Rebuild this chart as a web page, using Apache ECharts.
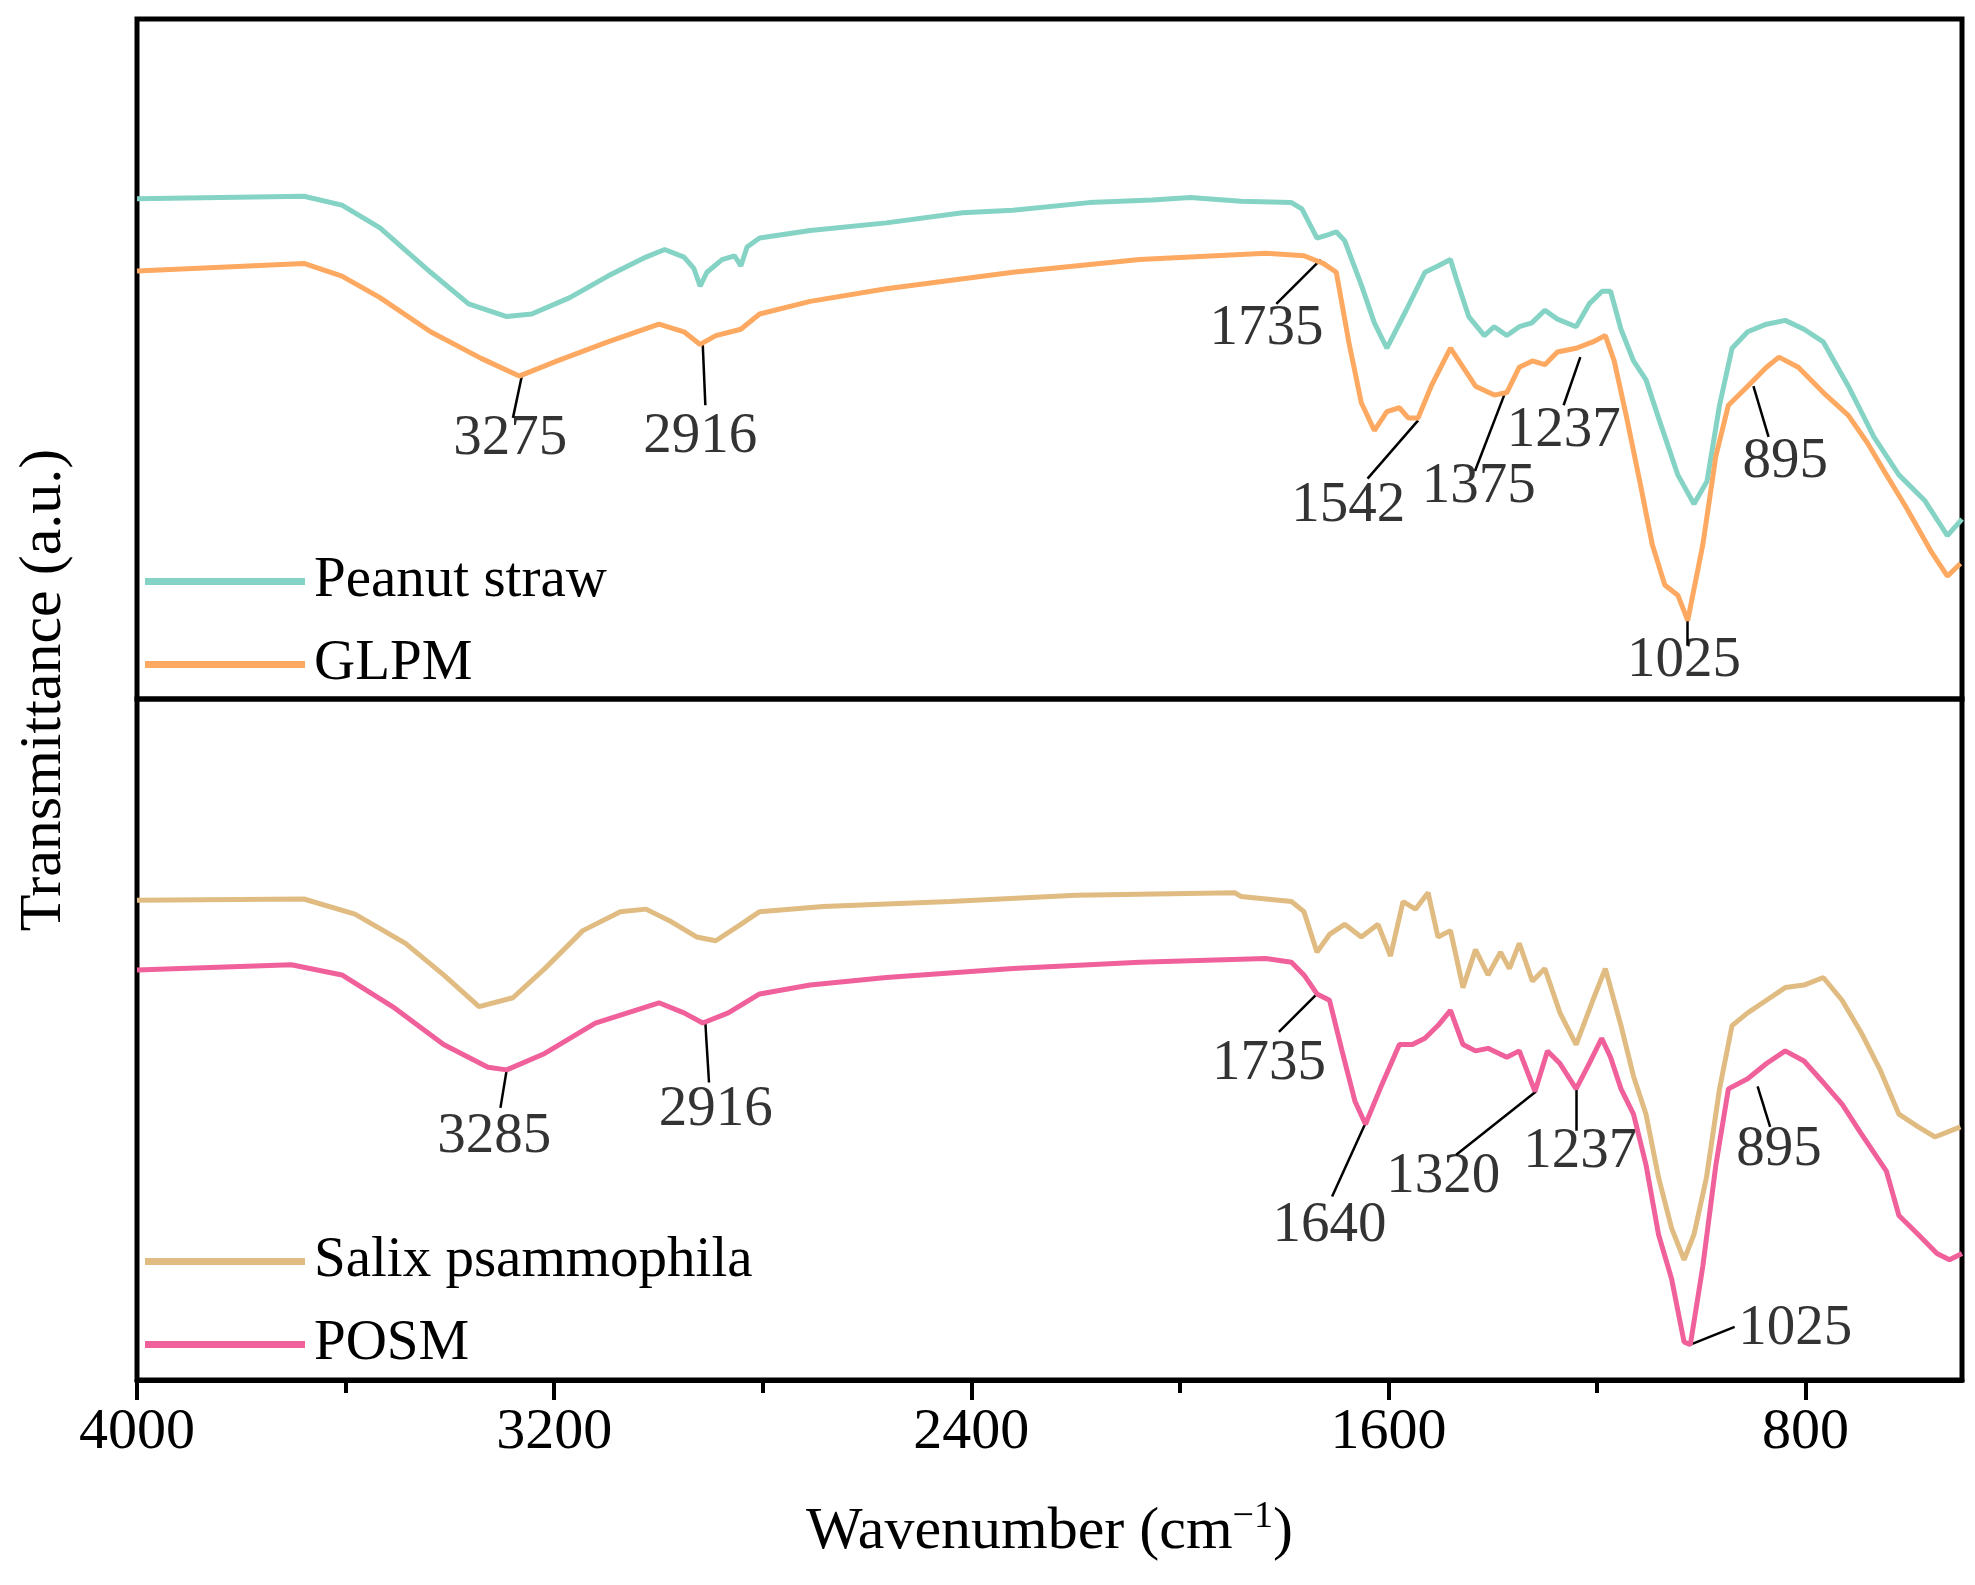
<!DOCTYPE html>
<html><head><meta charset="utf-8">
<script src="https://cdn.jsdelivr.net/npm/echarts@6/dist/echarts.min.js"></script>
<style>html,body{margin:0;padding:0;background:#fff}#c{width:1975px;height:1585px}</style>
</head><body><div id="c"></div>
<script>
// [wavenumber, transmittance (a.u., arbitrary offset units)]
const peanutStraw = [[4000,157],[3680,155],[3607,162],[3534,180],[3437,215],[3364,240],[3291,250],[3243,248],[3170,235],[3097,218],[3024,203],[2988,197],[2951,203],[2932,212],[2920,226],[2907,215],[2878,205],[2854,202],[2842,210],[2830,195],[2806,188],[2709,182],[2563,176],[2417,168],[2320,166],[2174,160],[2053,158],[1980,156],[1883,159],[1786,160],[1766,165],[1737,188],[1713,185],[1700,183],[1684,190],[1652,225],[1627,255],[1603,275],[1566,245],[1530,215],[1505,210],[1481,205],[1470,220],[1446,250],[1416,265],[1397,258],[1373,265],[1349,258],[1325,255],[1300,245],[1276,252],[1240,258],[1215,240],[1190,230],[1174,230],[1154,260],[1130,285],[1106,300],[1082,330],[1045,375],[1014,398],[989,380],[965,320],[941,275],[911,262],[875,256],[839,253],[803,260],[766,270],[718,305],[669,345],[621,375],[572,395],[528,423],[500,410]];
const glpm = [[4000,214],[3680,208],[3607,218],[3534,235],[3437,262],[3340,283],[3267,297],[3194,285],[3097,270],[2999,256],[2951,262],[2920,272],[2890,265],[2842,260],[2806,248],[2709,238],[2563,228],[2320,215],[2077,205],[1835,200],[1762,202],[1725,208],[1700,215],[1676,270],[1652,318],[1627,340],[1603,325],[1579,322],[1562,330],[1543,330],[1518,305],[1481,275],[1457,290],[1433,305],[1397,312],[1373,310],[1349,290],[1324,285],[1300,288],[1276,278],[1240,275],[1208,270],[1184,265],[1167,285],[1143,330],[1118,380],[1094,430],[1070,462],[1045,470],[1026,490],[997,430],[972,360],[948,320],[911,305],[875,290],[851,282],[814,290],[766,310],[718,328],[681,350],[645,375],[608,400],[560,435],[528,455],[503,445]];
const salix = [[4000,711],[3680,710],[3582,722],[3485,745],[3412,770],[3344,795],[3279,788],[3218,765],[3145,735],[3073,720],[3024,718],[2975,728],[2927,740],[2890,743],[2842,730],[2806,720],[2684,716],[2441,712],[2199,707],[1895,705],[1883,708],[1786,712],[1762,720],[1737,752],[1713,738],[1684,730],[1652,740],[1620,730],[1596,755],[1572,712],[1548,718],[1524,705],[1505,740],[1481,735],[1457,780],[1433,750],[1409,770],[1385,752],[1368,765],[1349,745],[1324,775],[1300,765],[1271,800],[1240,825],[1208,790],[1184,765],[1154,810],[1130,850],[1106,880],[1082,930],[1057,970],[1033,995],[1014,975],[990,930],[965,860],[941,810],[911,800],[875,790],[839,780],[803,778],[766,772],[730,790],[694,815],[657,845],[621,880],[584,890],[552,898],[503,890]];
const posm = [[4000,766],[3704,762],[3607,770],[3510,795],[3412,825],[3327,843],[3291,845],[3218,832],[3121,808],[2999,792],[2951,800],[2915,808],[2866,800],[2806,785],[2709,778],[2563,772],[2320,765],[2077,760],[1835,757],[1786,760],[1762,770],[1737,785],[1713,790],[1689,830],[1664,870],[1644,888],[1616,860],[1579,825],[1554,825],[1530,820],[1505,810],[1481,798],[1457,825],[1433,830],[1409,828],[1373,835],[1349,830],[1319,862],[1295,830],[1271,840],[1240,860],[1215,840],[1191,820],[1174,835],[1154,860],[1130,880],[1106,920],[1082,975],[1057,1010],[1033,1060],[1021,1062],[997,1000],[972,920],[948,860],[911,852],[875,840],[839,830],[803,838],[766,855],[730,872],[694,895],[645,925],[621,960],[584,975],[548,990],[524,995],[500,990]];
// annotations: [label, peak wn, peak y, leader end wn, leader end y, text wn, text y]
const annotTop = [["1735",1730,205,1815,240,1834,260],["3275",3262,297,3279,330,3284,347],["2916",2915,272,2910,320,2920,345],["1542",1543,332,1640,378,1677,400],["1375",1378,312,1434,372,1427,385],["1237",1232,282,1264,320,1264,340],["895",900,305,871,345,839,365],["1025",1026,490,1026,510,1033,522]];
const annotBottom = [["1735",1737,785,1810,815,1829,840],["3285",3291,845,3303,875,3315,898],["2916",2910,808,2903,855,2890,877],["1640",1645,888,1708,945,1713,968],["1320",1317,862,1470,912,1495,930],["1237",1240,860,1240,893,1232,910],["895",892,858,868,890,851,908],["1025",1021,1062,936,1048,820,1050]];
const majorTicks = [4000,3200,2400,1600,800];
const minorTicks = [3600,2800,2000,1200];

const F = 'Liberation Serif';
const chart = echarts.init(document.getElementById('c'));
function annSeries(a, idx){
  return [{type:'lines',coordinateSystem:'cartesian2d',xAxisIndex:idx,yAxisIndex:idx,polyline:false,silent:true,
    lineStyle:{color:'#000',width:2.5,opacity:1},symbol:'none',
    data:a.map(d=>({coords:[[d[1],d[2]],[d[3],d[4]]]}))},
   {type:'scatter',xAxisIndex:idx,yAxisIndex:idx,symbolSize:0,silent:true,
    label:{show:true,position:'inside',formatter:p=>p.data[2],fontFamily:F,fontSize:57,color:'#000',textBorderWidth:0},
    data:a.map(d=>[d[5],d[6],d[0]])}];
}
const xBase = {type:'value',min:500,max:4000,inverse:true,splitLine:{show:false}};
const legText = {fontFamily:F,fontSize:57,color:'#000',padding:[0,0,0,4]};
chart.setOption({
  animation:false,
  grid:[{left:137,right:13,top:19,height:680,show:true,borderColor:'#000',borderWidth:5},
        {left:137,right:13,top:699,height:681,show:true,borderColor:'#000',borderWidth:5}],
  xAxis:[Object.assign({},xBase,{gridIndex:0,show:false}),
    Object.assign({},xBase,{gridIndex:1,axisLine:{show:true,lineStyle:{color:'#000',width:5}},
      axisTick:{show:true,customValues:majorTicks,length:20,lineStyle:{width:4,color:'#000'}},
      axisLabel:{customValues:majorTicks,formatter:v=>String(v),fontFamily:F,fontSize:58,color:'#000',margin:24},
      name:'{a|Wavenumber (cm}{s|−1}{a|)}',nameLocation:'middle',nameGap:118,
      nameTextStyle:{rich:{a:{fontFamily:F,fontSize:60,color:'#000'},s:{fontFamily:F,fontSize:38,color:'#000',verticalAlign:'top',padding:[0,0,30,0]}}}}),
    Object.assign({},xBase,{gridIndex:1,position:'bottom',axisLine:{show:false},axisLabel:{show:false},
      axisTick:{show:true,customValues:minorTicks,length:13,lineStyle:{width:4,color:'#000'}}})],
  yAxis:[{type:'value',gridIndex:0,min:15,max:552,inverse:true,show:false},
         {type:'value',gridIndex:1,min:552,max:1090,inverse:true,show:false},
         {type:'value',gridIndex:1,min:552,max:1090,inverse:true,show:false}],
  legend:[{left:140,top:548,orient:'vertical',itemGap:26,itemWidth:160,itemHeight:7,icon:'rect',
      data:['Peanut straw','GLPM'],textStyle:legText},
    {left:140,top:1228,orient:'vertical',itemGap:26,itemWidth:160,itemHeight:7,icon:'rect',
      data:['Salix psammophila','POSM'],textStyle:legText}],
  graphic:[{type:'text',x:44,y:690,rotation:Math.PI/2,style:{text:'Transmittance (a.u.)',font:'60px "Liberation Serif"',fill:'#000',align:'center',verticalAlign:'middle'}}],
  series:[
    {name:'Peanut straw',type:'line',xAxisIndex:0,yAxisIndex:0,data:peanutStraw,showSymbol:false,symbol:'none',color:'#84d3c4',lineStyle:{width:5}},
    {name:'GLPM',type:'line',xAxisIndex:0,yAxisIndex:0,data:glpm,showSymbol:false,symbol:'none',color:'#fda962',lineStyle:{width:5}},
    {name:'Salix psammophila',type:'line',xAxisIndex:1,yAxisIndex:1,data:salix,showSymbol:false,symbol:'none',color:'#e0bc82',lineStyle:{width:5}},
    {name:'POSM',type:'line',xAxisIndex:1,yAxisIndex:1,data:posm,showSymbol:false,symbol:'none',color:'#f0609a',lineStyle:{width:5}},
    ...annSeries(annotTop,0), ...annSeries(annotBottom,1)
  ]
});
</script></body></html>
